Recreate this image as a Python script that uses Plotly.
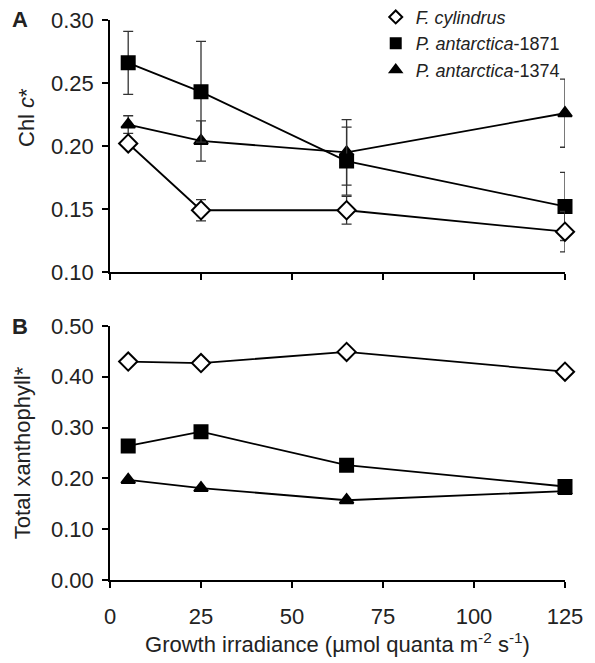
import plotly.graph_objects as go

# ---- data ----
irradiance = [5, 25, 65, 125]

chlc_fcyl = [0.202, 0.149, 0.149, 0.132]
chlc_fcyl_err = [0.0, 0.0085, 0.011, 0.016]
chlc_p1871 = [0.266, 0.243, 0.188, 0.152]
chlc_p1871_err = [0.025, 0.040, 0.027, 0.027]
chlc_p1374 = [0.217, 0.204, 0.195, 0.226]
chlc_p1374_err = [0.007, 0.016, 0.026, 0.027]

xan_fcyl = [0.430, 0.427, 0.449, 0.410]
xan_p1871 = [0.264, 0.292, 0.226, 0.184]
xan_p1374 = [0.197, 0.181, 0.157, 0.175]

series_names = ["<i>F. cylindrus</i>", "<i>P. antarctica</i>-1871", "<i>P. antarctica</i>-1374"]
symbols = ["diamond", "square", "triangle-up"]
fills = ["white", "black", "black"]
sizes = [14, 13, 12]

x_ticks = [0, 25, 50, 75, 100, 125]
yA_ticks = [0.10, 0.15, 0.20, 0.25, 0.30]
yB_ticks = [0.00, 0.10, 0.20, 0.30, 0.40, 0.50]

FONT = "Liberation Sans, Arial, Helvetica, sans-serif"
TXT = "#222"
FS = 22

fig = go.Figure()

chl_sets = [(chlc_fcyl, chlc_fcyl_err), (chlc_p1871, chlc_p1871_err), (chlc_p1374, chlc_p1374_err)]
xan_sets = [xan_fcyl, xan_p1871, xan_p1374]

# draw order: triangles, squares, diamonds on top
for i in [2, 1, 0]:
    vals, errs = chl_sets[i]
    fig.add_trace(go.Scatter(
        x=irradiance, y=vals, mode="lines+markers",
        line=dict(color="black", width=1.8),
        marker=dict(symbol=symbols[i], size=sizes[i], color=fills[i],
                    line=dict(color="black", width=2)),
        error_y=dict(type="data", array=errs, visible=True, color="#333", thickness=1.3, width=5),
        showlegend=False, xaxis="x", yaxis="y", cliponaxis=False,
    ))
for i in [2, 1, 0]:
    fig.add_trace(go.Scatter(
        x=irradiance, y=xan_sets[i], mode="lines+markers",
        line=dict(color="black", width=1.8),
        marker=dict(symbol=symbols[i], size=sizes[i], color=fills[i],
                    line=dict(color="black", width=2)),
        showlegend=False, xaxis="x2", yaxis="y2", cliponaxis=False,
    ))
# legend entries (markers only)
for i in range(3):
    fig.add_trace(go.Scatter(
        x=[None], y=[None], mode="markers", name=series_names[i],
        marker=dict(symbol=symbols[i], size=10, color=fills[i],
                    line=dict(color="black", width=2)),
        xaxis="x", yaxis="y",
    ))

axis_common = dict(showline=True, linecolor="black", linewidth=1.5, ticks="outside",
                   ticklen=6, tickwidth=1.5, tickcolor="black", showgrid=False, zeroline=False,
                   tickfont=dict(family=FONT, size=FS, color=TXT))

fig.update_layout(
    width=595, height=663,
    margin=dict(l=110, r=30, t=20, b=83, autoexpand=False),
    paper_bgcolor="white", plot_bgcolor="white",
    font=dict(family=FONT, color=TXT),
    xaxis=dict(domain=[0, 1], range=[0, 125], tickvals=x_ticks, showticklabels=False,
               anchor="y", **axis_common),
    yaxis=dict(domain=[0.55, 1], range=[0.10, 0.30], tickvals=yA_ticks, tickformat=".2f",
               anchor="x", ticklabelstandoff=4, **axis_common),
    xaxis2=dict(domain=[0, 1], range=[0, 125], tickvals=x_ticks, anchor="y2", ticklabelstandoff=10,
                title=dict(text="Growth irradiance (µmol quanta m<sup>-2</sup> s<sup>-1</sup>)",
                           font=dict(family=FONT, size=FS, color=TXT), standoff=8),
                **axis_common),
    yaxis2=dict(domain=[0, 0.4536], range=[0, 0.50], tickvals=yB_ticks, tickformat=".2f",
                anchor="x2", ticklabelstandoff=4,
                title=dict(text="Total xanthophyll*", font=dict(family=FONT, size=FS, color=TXT), standoff=14),
                **axis_common),
    legend=dict(x=0.584, y=1.038, xanchor="left", yanchor="top", bgcolor="rgba(0,0,0,0)",
                font=dict(family=FONT, size=18, color=TXT), tracegroupgap=0, itemwidth=30),
)

# text placed in pixel terms converted to paper coords
plot_w = 595 - 110 - 30
plot_h = 663 - 20 - 83
def px_to_paper(px, py):
    return (px - 110) / plot_w, (663 - 83 - py) / plot_h
ax, ay = px_to_paper(20, 19)
bx, by = px_to_paper(20, 326)
tx, ty = px_to_paper(26, 118)
fig.add_annotation(text="<b>A</b>", x=ax, y=ay, xref="paper", yref="paper", showarrow=False,
                   xanchor="center", yanchor="middle", font=dict(family=FONT, size=FS, color=TXT))
fig.add_annotation(text="<b>B</b>", x=bx, y=by, xref="paper", yref="paper", showarrow=False,
                   xanchor="center", yanchor="middle", font=dict(family=FONT, size=FS, color=TXT))
fig.add_annotation(text="Chl <i>c</i>*", x=tx, y=ty, xref="paper", yref="paper", showarrow=False,
                   textangle=-90, xanchor="center", yanchor="middle",
                   font=dict(family=FONT, size=FS, color=TXT))

fig.write_html("out.html")
